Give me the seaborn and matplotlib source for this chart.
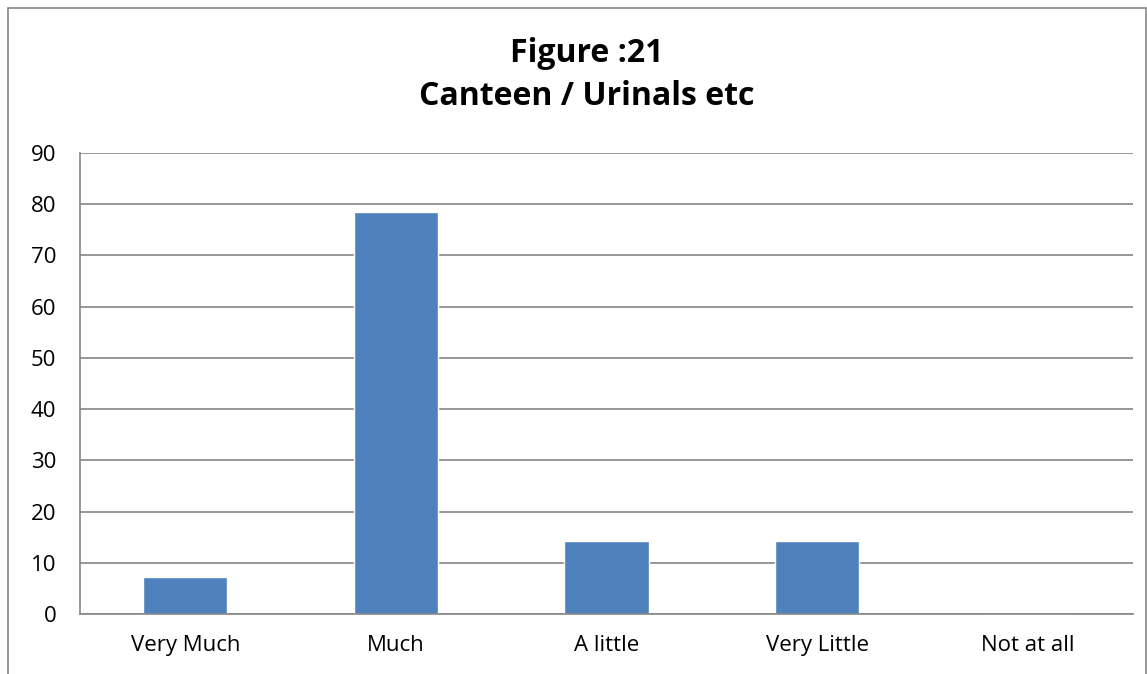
import matplotlib
matplotlib.use("Agg")
import matplotlib.pyplot as plt
import seaborn as sns
import pandas as pd
import numpy as np
from matplotlib.patches import Rectangle

categories = ["Very Much", "Much", "A little", "Very Little", "Not at all"]
values = [7.14, 78.57, 14.29, 14.29, 0.0]
title = "Figure :21\nCanteen / Urinals etc"

sns.set_style("white")
plt.rcParams["font.family"] = ["Open Sans", "DejaVu Sans"]
plt.rcParams["text.color"] = "black"
plt.rcParams["xtick.color"] = "black"
plt.rcParams["ytick.color"] = "black"

df = pd.DataFrame({"category": categories, "value": values})

fig = plt.figure(figsize=(11.47, 6.74), dpi=100)
ax = fig.add_axes([80 / 1147, 1 - 614 / 674, (1133 - 80) / 1147, (614 - 153) / 674])

sns.barplot(data=df, x="category", y="value", order=categories, color="#4F81BD",
            saturation=1, width=0.4, ax=ax)

grid_col = "#868686"
ax.set_ylim(0, 90)
ax.set_xlim(-0.5, len(categories) - 0.5)
ax.set_yticks(np.arange(0, 91, 10))
ax.yaxis.grid(True, color=grid_col, linewidth=1.2)
ax.set_axisbelow(True)
ax.set_xlabel("")
ax.set_ylabel("")

for side in ["top", "right"]:
    ax.spines[side].set_visible(False)
for side in ["left", "bottom"]:
    ax.spines[side].set_color(grid_col)
    ax.spines[side].set_linewidth(1.2)

ax.tick_params(axis="y", length=7, color=grid_col, width=1.2, labelsize=16,
               pad=10, labelcolor="black")
ax.tick_params(axis="x", which="major", length=0, labelsize=16, pad=15,
               labelcolor="black")
ax.set_xticks(np.arange(-0.5, len(categories)), minor=True)
ax.tick_params(axis="x", which="minor", length=7, color=grid_col, width=1.2)

fig.text(587 / 1147, 1 - 75 / 674, title, ha="center", va="center",
         fontsize=23, fontweight="bold", linespacing=1.4, color="black")

# outer chart border
fig.patches.append(Rectangle((8 / 1147, -0.05), (1146 - 8) / 1147, 1.05 - 8 / 674,
                             transform=fig.transFigure, fill=False,
                             edgecolor=grid_col, linewidth=1.2))

fig.savefig("out.png", dpi=100)
